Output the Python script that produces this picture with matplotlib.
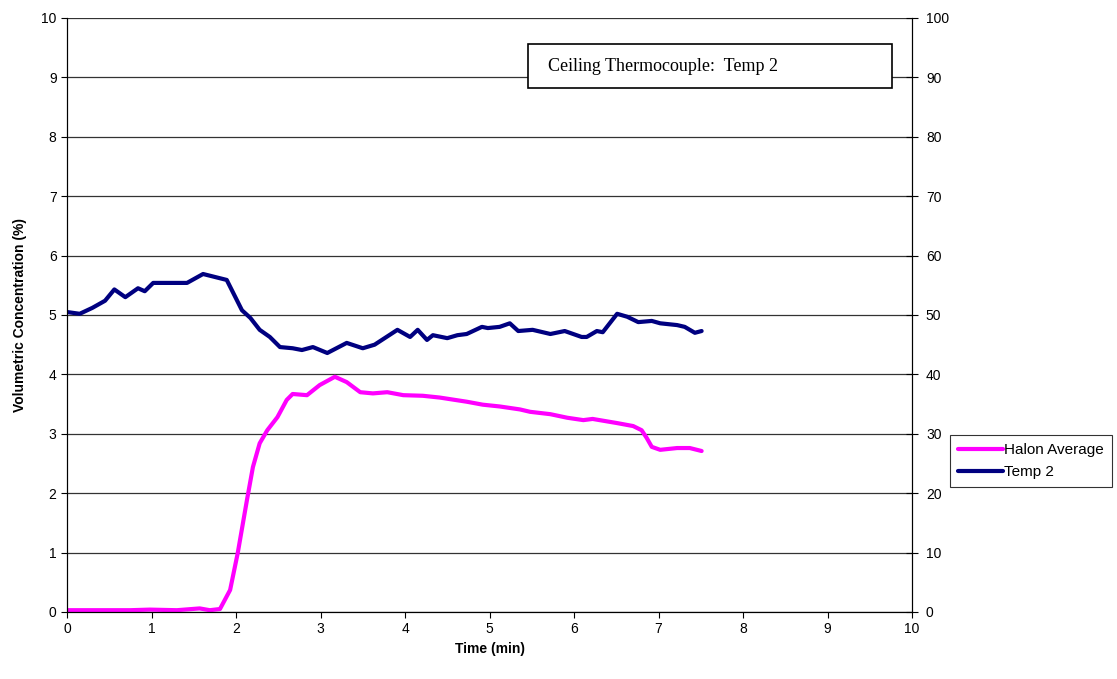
import matplotlib
matplotlib.use("Agg")
import matplotlib.pyplot as plt
from matplotlib.patches import Rectangle

plt.rcParams['font.family'] = ['Liberation Sans', 'DejaVu Sans']

# halon average, volumetric concentration (%) vs time (min)
halon_t = [0.0, 0.39, 0.75, 0.98, 1.3, 1.57, 1.69, 1.81, 1.93, 2.02, 2.13, 2.20, 2.28, 2.37,
           2.49, 2.60, 2.67, 2.84, 2.99, 3.17, 3.31, 3.47, 3.62, 3.79, 3.98, 4.21, 4.41,
           4.73, 4.92, 5.12, 5.36, 5.48, 5.72, 5.92, 6.11, 6.22, 6.51, 6.70, 6.80, 6.86,
           6.92, 7.02, 7.22, 7.37, 7.51]
halon_c = [0.03, 0.03, 0.03, 0.04, 0.03, 0.06, 0.03, 0.05, 0.37, 0.99, 1.89, 2.44, 2.84, 3.06,
           3.28, 3.57, 3.67, 3.65, 3.82, 3.96, 3.87, 3.70, 3.68, 3.70, 3.65, 3.64, 3.61,
           3.54, 3.49, 3.46, 3.41, 3.37, 3.33, 3.27, 3.23, 3.25, 3.18, 3.13, 3.06, 2.93,
           2.78, 2.73, 2.76, 2.76, 2.71]

# ceiling thermocouple, temp 2 (right axis)
temp_t = [0.0, 0.15, 0.30, 0.45, 0.56, 0.69, 0.84, 0.92, 1.02, 1.42, 1.61, 1.89, 2.07, 2.17,
          2.28, 2.40, 2.52, 2.67, 2.78, 2.91, 3.08, 3.31, 3.50, 3.64, 3.91, 4.06, 4.15,
          4.26, 4.33, 4.50, 4.62, 4.73, 4.91, 4.98, 5.12, 5.24, 5.34, 5.51, 5.72, 5.89,
          6.09, 6.15, 6.27, 6.34, 6.51, 6.63, 6.76, 6.92, 7.02, 7.22, 7.31, 7.43, 7.51]
temp_v = [50.5, 50.2, 51.2, 52.4, 54.3, 53.0, 54.5, 54.0, 55.4, 55.4, 56.9, 55.9, 50.8, 49.5,
          47.5, 46.3, 44.6, 44.4, 44.1, 44.6, 43.6, 45.3, 44.4, 45.0, 47.5, 46.3, 47.5,
          45.8, 46.6, 46.1, 46.6, 46.8, 48.0, 47.8, 48.0, 48.6, 47.3, 47.5, 46.8, 47.3,
          46.3, 46.3, 47.3, 47.1, 50.2, 49.7, 48.8, 49.0, 48.6, 48.3, 48.0, 47.0, 47.3]

fig = plt.figure(figsize=(11.17, 6.79), dpi=100)
ax = fig.add_axes([0.06, 0.0987, 0.7565, 0.8748])
ax2 = ax.twinx()

ax.set_xlim(0, 10)
ax.set_ylim(0, 10)
ax2.set_ylim(0, 100)
ax.set_xticks(range(0, 11))
ax.set_yticks(range(0, 11))
ax2.set_yticks(range(0, 101, 10))
ax.yaxis.grid(True, color='#333333', linewidth=0.9)
ax.set_axisbelow(True)

l1, = ax.plot(halon_t, halon_c, color='#FF00FF', linewidth=3, solid_capstyle='round',
              solid_joinstyle='round', label='Halon Average')
l2, = ax2.plot(temp_t, temp_v, color='#000080', linewidth=3, solid_capstyle='round',
               solid_joinstyle='round', label='Temp 2')

ax.tick_params(axis='both', direction='out', length=4, labelsize=10)
ax2.tick_params(axis='y', direction='inout', length=8, labelsize=10, pad=6)
for a in (ax, ax2):
    for s in a.spines.values():
        s.set_linewidth(0.8)
ax.spines['top'].set_visible(False)
ax2.spines['top'].set_visible(False)

ax.set_xlabel('Time (min)', fontweight='bold', fontsize=10)
ax.set_ylabel('Volumetric Concentration (%)', fontweight='bold', fontsize=10, labelpad=10)

fig.legend([l1, l2], ['Halon Average', 'Temp 2'], loc='upper left',
           bbox_to_anchor=(950 / 1117, 1 - 435 / 679), frameon=True, fancybox=False,
           edgecolor='black', fontsize=11, handlelength=2.9, handletextpad=0.1,
           borderpad=0.55, labelspacing=0.5, borderaxespad=0)
fig.legends[0].get_frame().set_linewidth(0.8)

# annotation box
ax.add_patch(Rectangle((0.5456, 0.882), 0.4307, 0.074, transform=ax.transAxes,
                       facecolor='white', edgecolor='black', linewidth=1.2, zorder=5))
ax.text(0.569, 0.919, 'Ceiling Thermocouple:  Temp 2', transform=ax.transAxes,
        family='Liberation Serif', fontsize=13, va='center', ha='left', zorder=6)

fig.savefig('out.png', dpi=100)
